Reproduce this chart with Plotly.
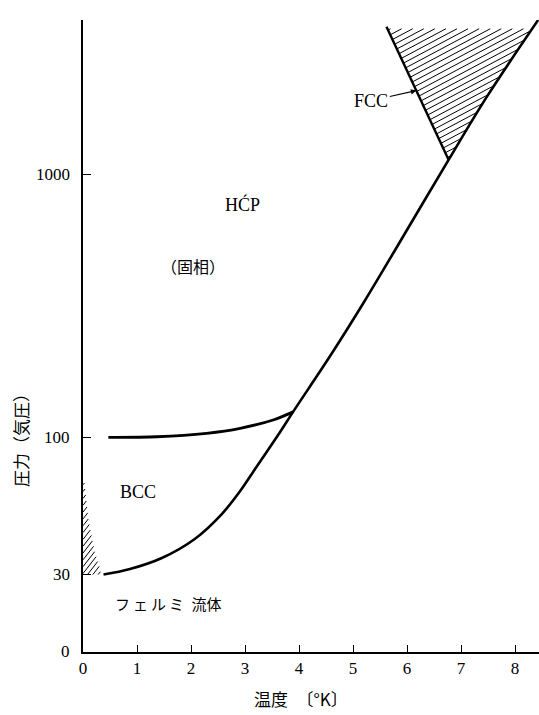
import math
import plotly.graph_objects as go

# ---- phase diagram data (temperature in K, pressure in atm) ----
# melting curve: fluid / solid boundary
melt_T = [0.38, 0.87, 1.46, 2.07, 2.57, 2.91, 3.15, 3.65, 3.89, 4.57, 5.19, 5.78, 6.77, 7.48, 8.43]
melt_P = [30, 31.5, 34.7, 41.0, 51.0, 62.4, 73.8, 104.8, 125, 203, 324, 517, 1140, 1985, 3890]

# bcc / hcp boundary
bcc_T = [0.47, 1.37, 2.29, 2.91, 3.52, 3.89]
bcc_P = [100, 100.5, 103.6, 108.2, 116.4, 125]

# fcc / hcp boundary (straight segment up to the triple point)
fcc_T = [5.62, 6.77]
fcc_P = [3666, 1140]
fcc_hatch_top = 3600

# small hatched zone next to the pressure axis
low_T = [0, 0, 0.33, 0.31, 0.22, 0.10, 0.02]
low_P = [70, 30, 30, 31.8, 36.3, 48.4, 68.8]

x_ticks = [0, 1, 2, 3, 4, 5, 6, 7, 8]
y_ticks = [15.25, 30, 100, 1000]
y_tick_text = ["0", "30", "100", "1000"]

# ---- layout geometry ----
W, H = 539, 715
ML, MR, MT, MB = 83, 0, 20, 63
PX_X = 54.0                      # pixels per kelvin
PX_DEC = 262.5                   # pixels per decade of pressure
plot_w = W - ML - MR
plot_h = H - MT - MB
x_max = plot_w / PX_X
y_lo = 1.1821
y_hi = y_lo + plot_h / PX_DEC

SERIF = '"Liberation Serif", "Times New Roman", serif'
CJK = '"Noto Sans CJK JP", "Noto Sans CJK SC", sans-serif'


def log_interp(T, P, target):
    """Point on a straight (in screen space) segment where pressure equals target."""
    l0, l1 = math.log10(P[0]), math.log10(P[1])
    t = (math.log10(target) - l0) / (l1 - l0)
    return T[0] + t * (T[1] - T[0])


def hatch(xs, ys, angle_deg, gap_px):
    """Parallel hatch segments clipped to a polygon, computed in screen units."""
    pts = [(x * PX_X, math.log10(y) * PX_DEC) for x, y in zip(xs, ys)]
    a = math.radians(angle_deg)
    d = (math.cos(a), math.sin(a))
    n = (-math.sin(a), math.cos(a))
    proj = [n[0] * u + n[1] * v for u, v in pts]
    lo, hi = min(proj), max(proj)
    hx, hy = [], []
    m = len(pts)
    c = lo + gap_px / 2
    while c < hi:
        hits = []
        for i in range(m):
            j = (i + 1) % m
            f1, f2 = proj[i] - c, proj[j] - c
            if (f1 < 0) != (f2 < 0):
                t = f1 / (f1 - f2)
                u = pts[i][0] + t * (pts[j][0] - pts[i][0])
                v = pts[i][1] + t * (pts[j][1] - pts[i][1])
                hits.append((d[0] * u + d[1] * v, u, v))
        hits.sort()
        for k in range(0, len(hits) - 1, 2):
            for _, u, v in hits[k:k + 2]:
                hx.append(u / PX_X)
                hy.append(10 ** (v / PX_DEC))
            hx.append(None)
            hy.append(None)
        c += gap_px
    return hx, hy


# fcc region polygon: left boundary, then along the melting curve up to the hatch top
fcc_left_top_T = log_interp(fcc_T, fcc_P, fcc_hatch_top)
poly_T = [fcc_left_top_T, fcc_T[1]]
poly_P = [fcc_hatch_top, fcc_P[1]]
for i in range(len(melt_T) - 1):
    if fcc_P[1] < melt_P[i] < fcc_hatch_top:
        poly_T.append(melt_T[i])
        poly_P.append(melt_P[i])
    if melt_P[i] < fcc_hatch_top <= melt_P[i + 1]:
        poly_T.append(log_interp(melt_T[i:i + 2], melt_P[i:i + 2], fcc_hatch_top))
        poly_P.append(fcc_hatch_top)

fcc_hx, fcc_hy = hatch(poly_T, poly_P, 28, 5.2)
low_hx, low_hy = hatch(low_T, low_P, 52, 4.2)

fig = go.Figure()
hatch_line = dict(color="black", width=1.0)
fig.add_trace(go.Scatter(x=fcc_hx, y=fcc_hy, mode="lines", line=hatch_line, hoverinfo="skip"))
fig.add_trace(go.Scatter(x=low_hx, y=low_hy, mode="lines", line=hatch_line, hoverinfo="skip"))

fig.add_trace(go.Scatter(x=melt_T, y=melt_P, mode="lines",
                         line=dict(color="black", width=2.6, shape="spline", smoothing=1.0)))
fig.add_trace(go.Scatter(x=bcc_T, y=bcc_P, mode="lines",
                         line=dict(color="black", width=2.8, shape="spline", smoothing=1.0)))
fig.add_trace(go.Scatter(x=fcc_T, y=fcc_P, mode="lines",
                         line=dict(color="black", width=2.4)))

# ---- text labels ----
def lab(x, p, text, font, size):
    return dict(x=x, y=math.log10(p), xref="x", yref="y", text=text, showarrow=False,
                xanchor="center", yanchor="middle",
                font=dict(family=font, size=size, color="black"))

annotations = [
    lab(2.95, 774, "HĆP", SERIF, 18),
    lab(2.04, 449, "（固相）", CJK, 16),
    lab(1.01, 62, "BCC", SERIF, 18),
    lab(1.59, 23.2, "フ\u2009ェ\u2009ル\u2009ミ\u2002流体", CJK, 15),
]

# arrow pointing at the fcc boundary
t_arrow = 0.48
arrow_T = fcc_T[0] + t_arrow * (fcc_T[1] - fcc_T[0])
arrow_L = math.log10(fcc_P[0]) + t_arrow * (math.log10(fcc_P[1]) - math.log10(fcc_P[0]))
annotations.append(dict(x=arrow_T, y=arrow_L, xref="x", yref="y", text="FCC",
                        showarrow=True, ax=-45, ay=10, arrowhead=2, arrowsize=0.9,
                        arrowwidth=1.2, arrowcolor="black", standoff=0,
                        font=dict(family=SERIF, size=18, color="black")))

# pressure tick labels, right-aligned a little left of the axis
for v, t in zip(y_ticks, y_tick_text):
    annotations.append(dict(x=-11 / plot_w, y=math.log10(v), xref="paper", yref="y",
                            text=t, showarrow=False, xanchor="right", yanchor="middle",
                            font=dict(family=SERIF, size=17, color="black")))


def paper_label(px, py, text, size, angle=0):
    return dict(x=(px - ML) / plot_w, y=(H - MB - py) / plot_h, xref="paper", yref="paper",
                text=text, showarrow=False, textangle=angle,
                xanchor="center", yanchor="middle",
                font=dict(family=CJK, size=size, color="black"))

# axis titles
annotations.append(paper_label(20, 436, "圧力（気圧）", 17, -90))
annotations.append(paper_label(301, 698, "温度　〔°K〕", 17))

fig.update_layout(
    width=W, height=H,
    margin=dict(l=ML, r=MR, t=MT, b=MB, pad=0),
    paper_bgcolor="white", plot_bgcolor="white",
    showlegend=False,
    annotations=annotations,
    xaxis=dict(range=[0, x_max], tickvals=x_ticks, ticks="inside", ticklen=7,
               tickwidth=1, tickcolor="black", showline=True, linecolor="black",
               linewidth=1.5, showgrid=False, zeroline=False,
               tickfont=dict(family=SERIF, size=17, color="black")),
    yaxis=dict(type="log", range=[y_lo, y_hi], tickvals=y_ticks, showticklabels=False,
               ticks="inside", ticklen=8, tickwidth=1, tickcolor="black",
               showline=True, linecolor="black", linewidth=2, showgrid=False,
               zeroline=False),
)

fig.write_html("out.html")
